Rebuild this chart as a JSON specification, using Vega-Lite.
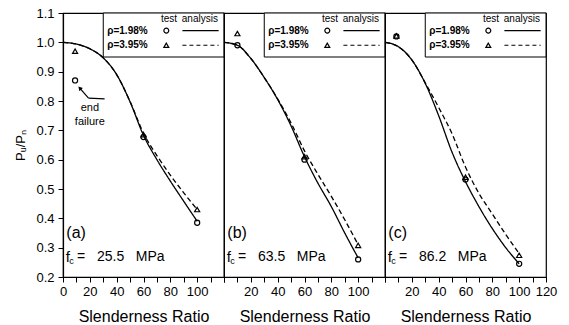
{
  "$schema": "https://vega.github.io/schema/vega-lite/v6.json",
  "padding": {"left": 14, "top": 6, "right": 5, "bottom": 0},
  "background": "white",
  "config": {
    "font": "Liberation Sans",
    "view": {"stroke": "black", "strokeWidth": 1.2},
    "axis": {"domainColor": "black", "domainWidth": 1.2, "tickColor": "black", "tickWidth": 1, "tickSize": 5, "labelColor": "black", "titleColor": "black", "labelFontSize": 13, "titleFontSize": 16, "titleFontWeight": "normal", "grid": false, "labelFlush": false, "labelOverlap": false}
  },
  "datasets": {
    "curves": [
      {"panel": "a", "series": "1.98%", "x": 0, "y": 1.0}, {"panel": "a", "series": "1.98%", "x": 10, "y": 0.994}, {"panel": "a", "series": "1.98%", "x": 20, "y": 0.978}, {"panel": "a", "series": "1.98%", "x": 30, "y": 0.947}, {"panel": "a", "series": "1.98%", "x": 40, "y": 0.89}, {"panel": "a", "series": "1.98%", "x": 50, "y": 0.797}, {"panel": "a", "series": "1.98%", "x": 60, "y": 0.683}, {"panel": "a", "series": "1.98%", "x": 70, "y": 0.6}, {"panel": "a", "series": "1.98%", "x": 80, "y": 0.527}, {"panel": "a", "series": "1.98%", "x": 90, "y": 0.458}, {"panel": "a", "series": "1.98%", "x": 100, "y": 0.39},
      {"panel": "a", "series": "3.95%", "x": 0, "y": 1.0}, {"panel": "a", "series": "3.95%", "x": 10, "y": 0.994}, {"panel": "a", "series": "3.95%", "x": 20, "y": 0.978}, {"panel": "a", "series": "3.95%", "x": 30, "y": 0.947}, {"panel": "a", "series": "3.95%", "x": 40, "y": 0.89}, {"panel": "a", "series": "3.95%", "x": 50, "y": 0.798}, {"panel": "a", "series": "3.95%", "x": 60, "y": 0.69}, {"panel": "a", "series": "3.95%", "x": 70, "y": 0.614}, {"panel": "a", "series": "3.95%", "x": 80, "y": 0.547}, {"panel": "a", "series": "3.95%", "x": 90, "y": 0.487}, {"panel": "a", "series": "3.95%", "x": 100, "y": 0.43},
      {"panel": "b", "series": "1.98%", "x": 0, "y": 1.0}, {"panel": "b", "series": "1.98%", "x": 10, "y": 0.99}, {"panel": "b", "series": "1.98%", "x": 20, "y": 0.945}, {"panel": "b", "series": "1.98%", "x": 30, "y": 0.88}, {"panel": "b", "series": "1.98%", "x": 40, "y": 0.805}, {"panel": "b", "series": "1.98%", "x": 50, "y": 0.715}, {"panel": "b", "series": "1.98%", "x": 60, "y": 0.61}, {"panel": "b", "series": "1.98%", "x": 70, "y": 0.52}, {"panel": "b", "series": "1.98%", "x": 80, "y": 0.44}, {"panel": "b", "series": "1.98%", "x": 90, "y": 0.35}, {"panel": "b", "series": "1.98%", "x": 100, "y": 0.265},
      {"panel": "b", "series": "3.95%", "x": 0, "y": 1.0}, {"panel": "b", "series": "3.95%", "x": 10, "y": 0.99}, {"panel": "b", "series": "3.95%", "x": 20, "y": 0.945}, {"panel": "b", "series": "3.95%", "x": 30, "y": 0.88}, {"panel": "b", "series": "3.95%", "x": 40, "y": 0.807}, {"panel": "b", "series": "3.95%", "x": 50, "y": 0.725}, {"panel": "b", "series": "3.95%", "x": 60, "y": 0.63}, {"panel": "b", "series": "3.95%", "x": 70, "y": 0.55}, {"panel": "b", "series": "3.95%", "x": 80, "y": 0.475}, {"panel": "b", "series": "3.95%", "x": 90, "y": 0.395}, {"panel": "b", "series": "3.95%", "x": 100, "y": 0.31},
      {"panel": "c", "series": "1.98%", "x": 0, "y": 1.0}, {"panel": "c", "series": "1.98%", "x": 10, "y": 0.985}, {"panel": "c", "series": "1.98%", "x": 20, "y": 0.94}, {"panel": "c", "series": "1.98%", "x": 30, "y": 0.86}, {"panel": "c", "series": "1.98%", "x": 40, "y": 0.75}, {"panel": "c", "series": "1.98%", "x": 50, "y": 0.625}, {"panel": "c", "series": "1.98%", "x": 60, "y": 0.525}, {"panel": "c", "series": "1.98%", "x": 70, "y": 0.44}, {"panel": "c", "series": "1.98%", "x": 80, "y": 0.365}, {"panel": "c", "series": "1.98%", "x": 90, "y": 0.3}, {"panel": "c", "series": "1.98%", "x": 100, "y": 0.245},
      {"panel": "c", "series": "3.95%", "x": 0, "y": 1.0}, {"panel": "c", "series": "3.95%", "x": 10, "y": 0.985}, {"panel": "c", "series": "3.95%", "x": 20, "y": 0.94}, {"panel": "c", "series": "3.95%", "x": 30, "y": 0.862}, {"panel": "c", "series": "3.95%", "x": 40, "y": 0.778}, {"panel": "c", "series": "3.95%", "x": 50, "y": 0.688}, {"panel": "c", "series": "3.95%", "x": 60, "y": 0.575}, {"panel": "c", "series": "3.95%", "x": 70, "y": 0.485}, {"panel": "c", "series": "3.95%", "x": 80, "y": 0.415}, {"panel": "c", "series": "3.95%", "x": 90, "y": 0.345}, {"panel": "c", "series": "3.95%", "x": 100, "y": 0.28}
    ],
    "tests": [
      {"panel": "a", "series": "1.98%", "x": 9, "y": 0.87}, {"panel": "a", "series": "1.98%", "x": 60, "y": 0.677}, {"panel": "a", "series": "1.98%", "x": 100, "y": 0.385},
      {"panel": "a", "series": "3.95%", "x": 9, "y": 0.97}, {"panel": "a", "series": "3.95%", "x": 60, "y": 0.685}, {"panel": "a", "series": "3.95%", "x": 100, "y": 0.43},
      {"panel": "b", "series": "1.98%", "x": 10, "y": 0.99}, {"panel": "b", "series": "1.98%", "x": 60, "y": 0.6}, {"panel": "b", "series": "1.98%", "x": 100, "y": 0.26},
      {"panel": "b", "series": "3.95%", "x": 10, "y": 1.03}, {"panel": "b", "series": "3.95%", "x": 60, "y": 0.61}, {"panel": "b", "series": "3.95%", "x": 100, "y": 0.308},
      {"panel": "c", "series": "1.98%", "x": 8.5, "y": 1.02}, {"panel": "c", "series": "1.98%", "x": 60, "y": 0.532}, {"panel": "c", "series": "1.98%", "x": 100, "y": 0.245},
      {"panel": "c", "series": "3.95%", "x": 8.5, "y": 1.022}, {"panel": "c", "series": "3.95%", "x": 60, "y": 0.54}, {"panel": "c", "series": "3.95%", "x": 100, "y": 0.274}
    ]
  },
  "hconcat": [
    {
      "width": 161, "height": 264,
      "resolve": {"axis": {"x": "independent", "y": "independent"}},
      "layer": [
        {"data": {"name": "curves"}, "transform": [{"filter": "datum.panel == 'a'"}],
         "mark": {"type": "line", "color": "black", "strokeWidth": 1.3, "interpolate": "monotone"},
         "encoding": {
           "x": {"field": "x", "type": "quantitative", "title": "Slenderness Ratio", "scale": {"domain": [0, 120], "nice": false, "zero": false}, "axis": {"values": [0,10,20,30,40,50,60,70,80,90,100,110,120], "labelExpr": "datum.value % 20 === 0 && datum.value <= 100 ? datum.label : ''", "labelOverlap": false, "labelFlush": false, "labelPadding": 3, "titlePadding": 10}},
           "y": {"field": "y", "type": "quantitative", "title": "Pᵤ/Pₙ", "scale": {"domain": [0.2, 1.1], "nice": false, "zero": false}, "axis": {"values": [0.2,0.3,0.4,0.5,0.6,0.7,0.8,0.9,1.0,1.1], "format": ".1f", "labelOverlap": false, "labelFlush": false, "labelPadding": 4, "titlePadding": 8, "titleFontSize": 13}},
           "strokeDash": {"field": "series", "type": "nominal", "scale": {"domain": ["1.98%", "3.95%"], "range": [[1, 0], [5, 3]]}, "legend": null},
           "detail": {"field": "series"}
         }},
        {"data": {"name": "tests"}, "transform": [{"filter": "datum.panel == 'a'"}],
         "mark": {"type": "point", "filled": false, "color": "black", "strokeWidth": 1.2, "size": 26, "opacity": 1},
         "encoding": {
           "x": {"field": "x", "type": "quantitative", "axis": null},
           "y": {"field": "y", "type": "quantitative", "axis": null},
           "shape": {"field": "series", "type": "nominal", "scale": {"domain": ["1.98%", "3.95%"], "range": ["circle", "triangle-up"]}, "legend": null}
         }},
        {"data": {"values": [{}]}, "layer": [
          {"mark": {"type": "rect", "fill": "white", "stroke": "black", "strokeWidth": 1}, "encoding": {"x": {"datum": 30, "axis": null}, "x2": {"datum": 120}, "y": {"datum": 0.95, "axis": null}, "y2": {"datum": 1.1}}},
          {"mark": {"type": "text", "text": "test", "fontSize": 10, "align": "center", "baseline": "middle"}, "encoding": {"x": {"datum": 79, "axis": null}, "y": {"datum": 1.08, "axis": null}}},
          {"mark": {"type": "text", "text": "analysis", "fontSize": 10, "align": "center", "baseline": "middle"}, "encoding": {"x": {"datum": 102, "axis": null}, "y": {"datum": 1.08, "axis": null}}},
          {"mark": {"type": "text", "text": "ρ=1.98%", "fontSize": 10, "fontWeight": "bold", "align": "left", "baseline": "middle"}, "encoding": {"x": {"datum": 33, "axis": null}, "y": {"datum": 1.04, "axis": null}}},
          {"mark": {"type": "text", "text": "ρ=3.95%", "fontSize": 10, "fontWeight": "bold", "align": "left", "baseline": "middle"}, "encoding": {"x": {"datum": 33, "axis": null}, "y": {"datum": 0.99, "axis": null}}},
          {"mark": {"type": "point", "shape": "circle", "filled": false, "color": "black", "size": 24, "strokeWidth": 1.2, "opacity": 1}, "encoding": {"x": {"datum": 77, "axis": null}, "y": {"datum": 1.04, "axis": null}}},
          {"mark": {"type": "point", "shape": "triangle-up", "filled": false, "color": "black", "size": 24, "strokeWidth": 1.2, "opacity": 1}, "encoding": {"x": {"datum": 77, "axis": null}, "y": {"datum": 0.99, "axis": null}}},
          {"mark": {"type": "rule", "color": "black", "strokeWidth": 1.2}, "encoding": {"x": {"datum": 89, "axis": null}, "x2": {"datum": 116}, "y": {"datum": 1.04, "axis": null}}},
          {"mark": {"type": "rule", "color": "black", "strokeWidth": 1.2, "strokeDash": [4, 3]}, "encoding": {"x": {"datum": 89, "axis": null}, "x2": {"datum": 116}, "y": {"datum": 0.99, "axis": null}}},
          {"mark": {"type": "text", "text": "(a)", "fontSize": 16, "align": "left", "baseline": "middle"}, "encoding": {"x": {"datum": 2.5, "axis": null}, "y": {"datum": 0.35, "axis": null}}},
          {"mark": {"type": "text", "text": "f", "fontSize": 15, "align": "left", "baseline": "middle"}, "encoding": {"x": {"datum": 2, "axis": null}, "y": {"datum": 0.268, "axis": null}}},
          {"mark": {"type": "text", "text": "c", "fontSize": 9, "align": "left", "baseline": "middle"}, "encoding": {"x": {"datum": 4.6, "axis": null}, "y": {"datum": 0.256, "axis": null}}},
          {"mark": {"type": "text", "text": "=\u00a0\u00a0\u00a025.5\u00a0\u00a0\u00a0MPa", "fontSize": 14, "align": "left", "baseline": "middle"}, "encoding": {"x": {"datum": 10.5, "axis": null}, "y": {"datum": 0.268, "axis": null}}},
          {"mark": {"type": "text", "text": "end", "fontSize": 11, "align": "center", "baseline": "middle"}, "encoding": {"x": {"datum": 20, "axis": null}, "y": {"datum": 0.776, "axis": null}}},
          {"mark": {"type": "text", "text": "failure", "fontSize": 11, "align": "center", "baseline": "middle"}, "encoding": {"x": {"datum": 20, "axis": null}, "y": {"datum": 0.728, "axis": null}}},
          {"mark": {"type": "rule", "color": "black", "strokeWidth": 1.2}, "encoding": {"x": {"datum": 13, "axis": null}, "x2": {"datum": 19}, "y": {"datum": 0.841, "axis": null}, "y2": {"datum": 0.81}}},
          {"mark": {"type": "rule", "color": "black", "strokeWidth": 1.2}, "encoding": {"x": {"datum": 19, "axis": null}, "x2": {"datum": 31}, "y": {"datum": 0.81, "axis": null}, "y2": {"datum": 0.807}}},
          {"mark": {"type": "point", "shape": "triangle-up", "filled": true, "color": "black", "size": 22, "angle": -42, "opacity": 1}, "encoding": {"x": {"datum": 12.5, "axis": null}, "y": {"datum": 0.844, "axis": null}}}
        ]}
      ]
    },
    {
      "width": 161, "height": 264,
      "resolve": {"axis": {"x": "independent", "y": "independent"}},
      "layer": [
        {"data": {"name": "curves"}, "transform": [{"filter": "datum.panel == 'b'"}],
         "mark": {"type": "line", "color": "black", "strokeWidth": 1.3, "interpolate": "monotone"},
         "encoding": {
           "x": {"field": "x", "type": "quantitative", "title": "Slenderness Ratio", "scale": {"domain": [0, 120], "nice": false, "zero": false}, "axis": {"values": [0,10,20,30,40,50,60,70,80,90,100,110,120], "labelExpr": "datum.value % 20 === 0 && datum.value >= 20 && datum.value <= 100 ? datum.label : ''", "labelOverlap": false, "labelFlush": false, "labelPadding": 3, "titlePadding": 10}},
           "y": {"field": "y", "type": "quantitative", "scale": {"domain": [0.2, 1.1], "nice": false, "zero": false}, "axis": null},
           "strokeDash": {"field": "series", "type": "nominal", "scale": {"domain": ["1.98%", "3.95%"], "range": [[1, 0], [5, 3]]}, "legend": null},
           "detail": {"field": "series"}
         }},
        {"data": {"name": "tests"}, "transform": [{"filter": "datum.panel == 'b'"}],
         "mark": {"type": "point", "filled": false, "color": "black", "strokeWidth": 1.2, "size": 26, "opacity": 1},
         "encoding": {
           "x": {"field": "x", "type": "quantitative", "axis": null},
           "y": {"field": "y", "type": "quantitative", "axis": null},
           "shape": {"field": "series", "type": "nominal", "scale": {"domain": ["1.98%", "3.95%"], "range": ["circle", "triangle-up"]}, "legend": null}
         }},
        {"data": {"values": [{}]}, "layer": [
          {"mark": {"type": "rect", "fill": "white", "stroke": "black", "strokeWidth": 1}, "encoding": {"x": {"datum": 30, "axis": null}, "x2": {"datum": 120}, "y": {"datum": 0.95, "axis": null}, "y2": {"datum": 1.1}}},
          {"mark": {"type": "text", "text": "test", "fontSize": 10, "align": "center", "baseline": "middle"}, "encoding": {"x": {"datum": 79, "axis": null}, "y": {"datum": 1.08, "axis": null}}},
          {"mark": {"type": "text", "text": "analysis", "fontSize": 10, "align": "center", "baseline": "middle"}, "encoding": {"x": {"datum": 102, "axis": null}, "y": {"datum": 1.08, "axis": null}}},
          {"mark": {"type": "text", "text": "ρ=1.98%", "fontSize": 10, "fontWeight": "bold", "align": "left", "baseline": "middle"}, "encoding": {"x": {"datum": 33, "axis": null}, "y": {"datum": 1.04, "axis": null}}},
          {"mark": {"type": "text", "text": "ρ=3.95%", "fontSize": 10, "fontWeight": "bold", "align": "left", "baseline": "middle"}, "encoding": {"x": {"datum": 33, "axis": null}, "y": {"datum": 0.99, "axis": null}}},
          {"mark": {"type": "point", "shape": "circle", "filled": false, "color": "black", "size": 24, "strokeWidth": 1.2, "opacity": 1}, "encoding": {"x": {"datum": 77, "axis": null}, "y": {"datum": 1.04, "axis": null}}},
          {"mark": {"type": "point", "shape": "triangle-up", "filled": false, "color": "black", "size": 24, "strokeWidth": 1.2, "opacity": 1}, "encoding": {"x": {"datum": 77, "axis": null}, "y": {"datum": 0.99, "axis": null}}},
          {"mark": {"type": "rule", "color": "black", "strokeWidth": 1.2}, "encoding": {"x": {"datum": 89, "axis": null}, "x2": {"datum": 116}, "y": {"datum": 1.04, "axis": null}}},
          {"mark": {"type": "rule", "color": "black", "strokeWidth": 1.2, "strokeDash": [4, 3]}, "encoding": {"x": {"datum": 89, "axis": null}, "x2": {"datum": 116}, "y": {"datum": 0.99, "axis": null}}},
          {"mark": {"type": "text", "text": "(b)", "fontSize": 16, "align": "left", "baseline": "middle"}, "encoding": {"x": {"datum": 2.5, "axis": null}, "y": {"datum": 0.35, "axis": null}}},
          {"mark": {"type": "text", "text": "f", "fontSize": 15, "align": "left", "baseline": "middle"}, "encoding": {"x": {"datum": 2, "axis": null}, "y": {"datum": 0.268, "axis": null}}},
          {"mark": {"type": "text", "text": "c", "fontSize": 9, "align": "left", "baseline": "middle"}, "encoding": {"x": {"datum": 4.6, "axis": null}, "y": {"datum": 0.256, "axis": null}}},
          {"mark": {"type": "text", "text": "=\u00a0\u00a0\u00a063.5\u00a0\u00a0\u00a0MPa", "fontSize": 14, "align": "left", "baseline": "middle"}, "encoding": {"x": {"datum": 10.5, "axis": null}, "y": {"datum": 0.268, "axis": null}}}
        ]}
      ]
    },
    {
      "width": 161, "height": 264,
      "resolve": {"axis": {"x": "independent", "y": "independent"}},
      "layer": [
        {"data": {"name": "curves"}, "transform": [{"filter": "datum.panel == 'c'"}],
         "mark": {"type": "line", "color": "black", "strokeWidth": 1.3, "interpolate": "monotone"},
         "encoding": {
           "x": {"field": "x", "type": "quantitative", "title": "Slenderness Ratio", "scale": {"domain": [0, 120], "nice": false, "zero": false}, "axis": {"values": [0,10,20,30,40,50,60,70,80,90,100,110,120], "labelExpr": "datum.value % 20 === 0 && datum.value >= 20 ? datum.label : ''", "labelOverlap": false, "labelFlush": false, "labelPadding": 3, "titlePadding": 10}},
           "y": {"field": "y", "type": "quantitative", "scale": {"domain": [0.2, 1.1], "nice": false, "zero": false}, "axis": null},
           "strokeDash": {"field": "series", "type": "nominal", "scale": {"domain": ["1.98%", "3.95%"], "range": [[1, 0], [5, 3]]}, "legend": null},
           "detail": {"field": "series"}
         }},
        {"data": {"name": "tests"}, "transform": [{"filter": "datum.panel == 'c'"}],
         "mark": {"type": "point", "filled": false, "color": "black", "strokeWidth": 1.2, "size": 26, "opacity": 1},
         "encoding": {
           "x": {"field": "x", "type": "quantitative", "axis": null},
           "y": {"field": "y", "type": "quantitative", "axis": null},
           "shape": {"field": "series", "type": "nominal", "scale": {"domain": ["1.98%", "3.95%"], "range": ["circle", "triangle-up"]}, "legend": null}
         }},
        {"data": {"values": [{}]}, "layer": [
          {"mark": {"type": "rect", "fill": "white", "stroke": "black", "strokeWidth": 1}, "encoding": {"x": {"datum": 30, "axis": null}, "x2": {"datum": 120}, "y": {"datum": 0.95, "axis": null}, "y2": {"datum": 1.1}}},
          {"mark": {"type": "text", "text": "test", "fontSize": 10, "align": "center", "baseline": "middle"}, "encoding": {"x": {"datum": 79, "axis": null}, "y": {"datum": 1.08, "axis": null}}},
          {"mark": {"type": "text", "text": "analysis", "fontSize": 10, "align": "center", "baseline": "middle"}, "encoding": {"x": {"datum": 102, "axis": null}, "y": {"datum": 1.08, "axis": null}}},
          {"mark": {"type": "text", "text": "ρ=1.98%", "fontSize": 10, "fontWeight": "bold", "align": "left", "baseline": "middle"}, "encoding": {"x": {"datum": 33, "axis": null}, "y": {"datum": 1.04, "axis": null}}},
          {"mark": {"type": "text", "text": "ρ=3.95%", "fontSize": 10, "fontWeight": "bold", "align": "left", "baseline": "middle"}, "encoding": {"x": {"datum": 33, "axis": null}, "y": {"datum": 0.99, "axis": null}}},
          {"mark": {"type": "point", "shape": "circle", "filled": false, "color": "black", "size": 24, "strokeWidth": 1.2, "opacity": 1}, "encoding": {"x": {"datum": 77, "axis": null}, "y": {"datum": 1.04, "axis": null}}},
          {"mark": {"type": "point", "shape": "triangle-up", "filled": false, "color": "black", "size": 24, "strokeWidth": 1.2, "opacity": 1}, "encoding": {"x": {"datum": 77, "axis": null}, "y": {"datum": 0.99, "axis": null}}},
          {"mark": {"type": "rule", "color": "black", "strokeWidth": 1.2}, "encoding": {"x": {"datum": 89, "axis": null}, "x2": {"datum": 116}, "y": {"datum": 1.04, "axis": null}}},
          {"mark": {"type": "rule", "color": "black", "strokeWidth": 1.2, "strokeDash": [4, 3]}, "encoding": {"x": {"datum": 89, "axis": null}, "x2": {"datum": 116}, "y": {"datum": 0.99, "axis": null}}},
          {"mark": {"type": "text", "text": "(c)", "fontSize": 16, "align": "left", "baseline": "middle"}, "encoding": {"x": {"datum": 2.5, "axis": null}, "y": {"datum": 0.35, "axis": null}}},
          {"mark": {"type": "text", "text": "f", "fontSize": 15, "align": "left", "baseline": "middle"}, "encoding": {"x": {"datum": 2, "axis": null}, "y": {"datum": 0.268, "axis": null}}},
          {"mark": {"type": "text", "text": "c", "fontSize": 9, "align": "left", "baseline": "middle"}, "encoding": {"x": {"datum": 4.6, "axis": null}, "y": {"datum": 0.256, "axis": null}}},
          {"mark": {"type": "text", "text": "=\u00a0\u00a0\u00a086.2\u00a0\u00a0\u00a0MPa", "fontSize": 14, "align": "left", "baseline": "middle"}, "encoding": {"x": {"datum": 10.5, "axis": null}, "y": {"datum": 0.268, "axis": null}}}
        ]}
      ]
    }
  ],
  "spacing": 0,
  "bounds": "flush"
}
